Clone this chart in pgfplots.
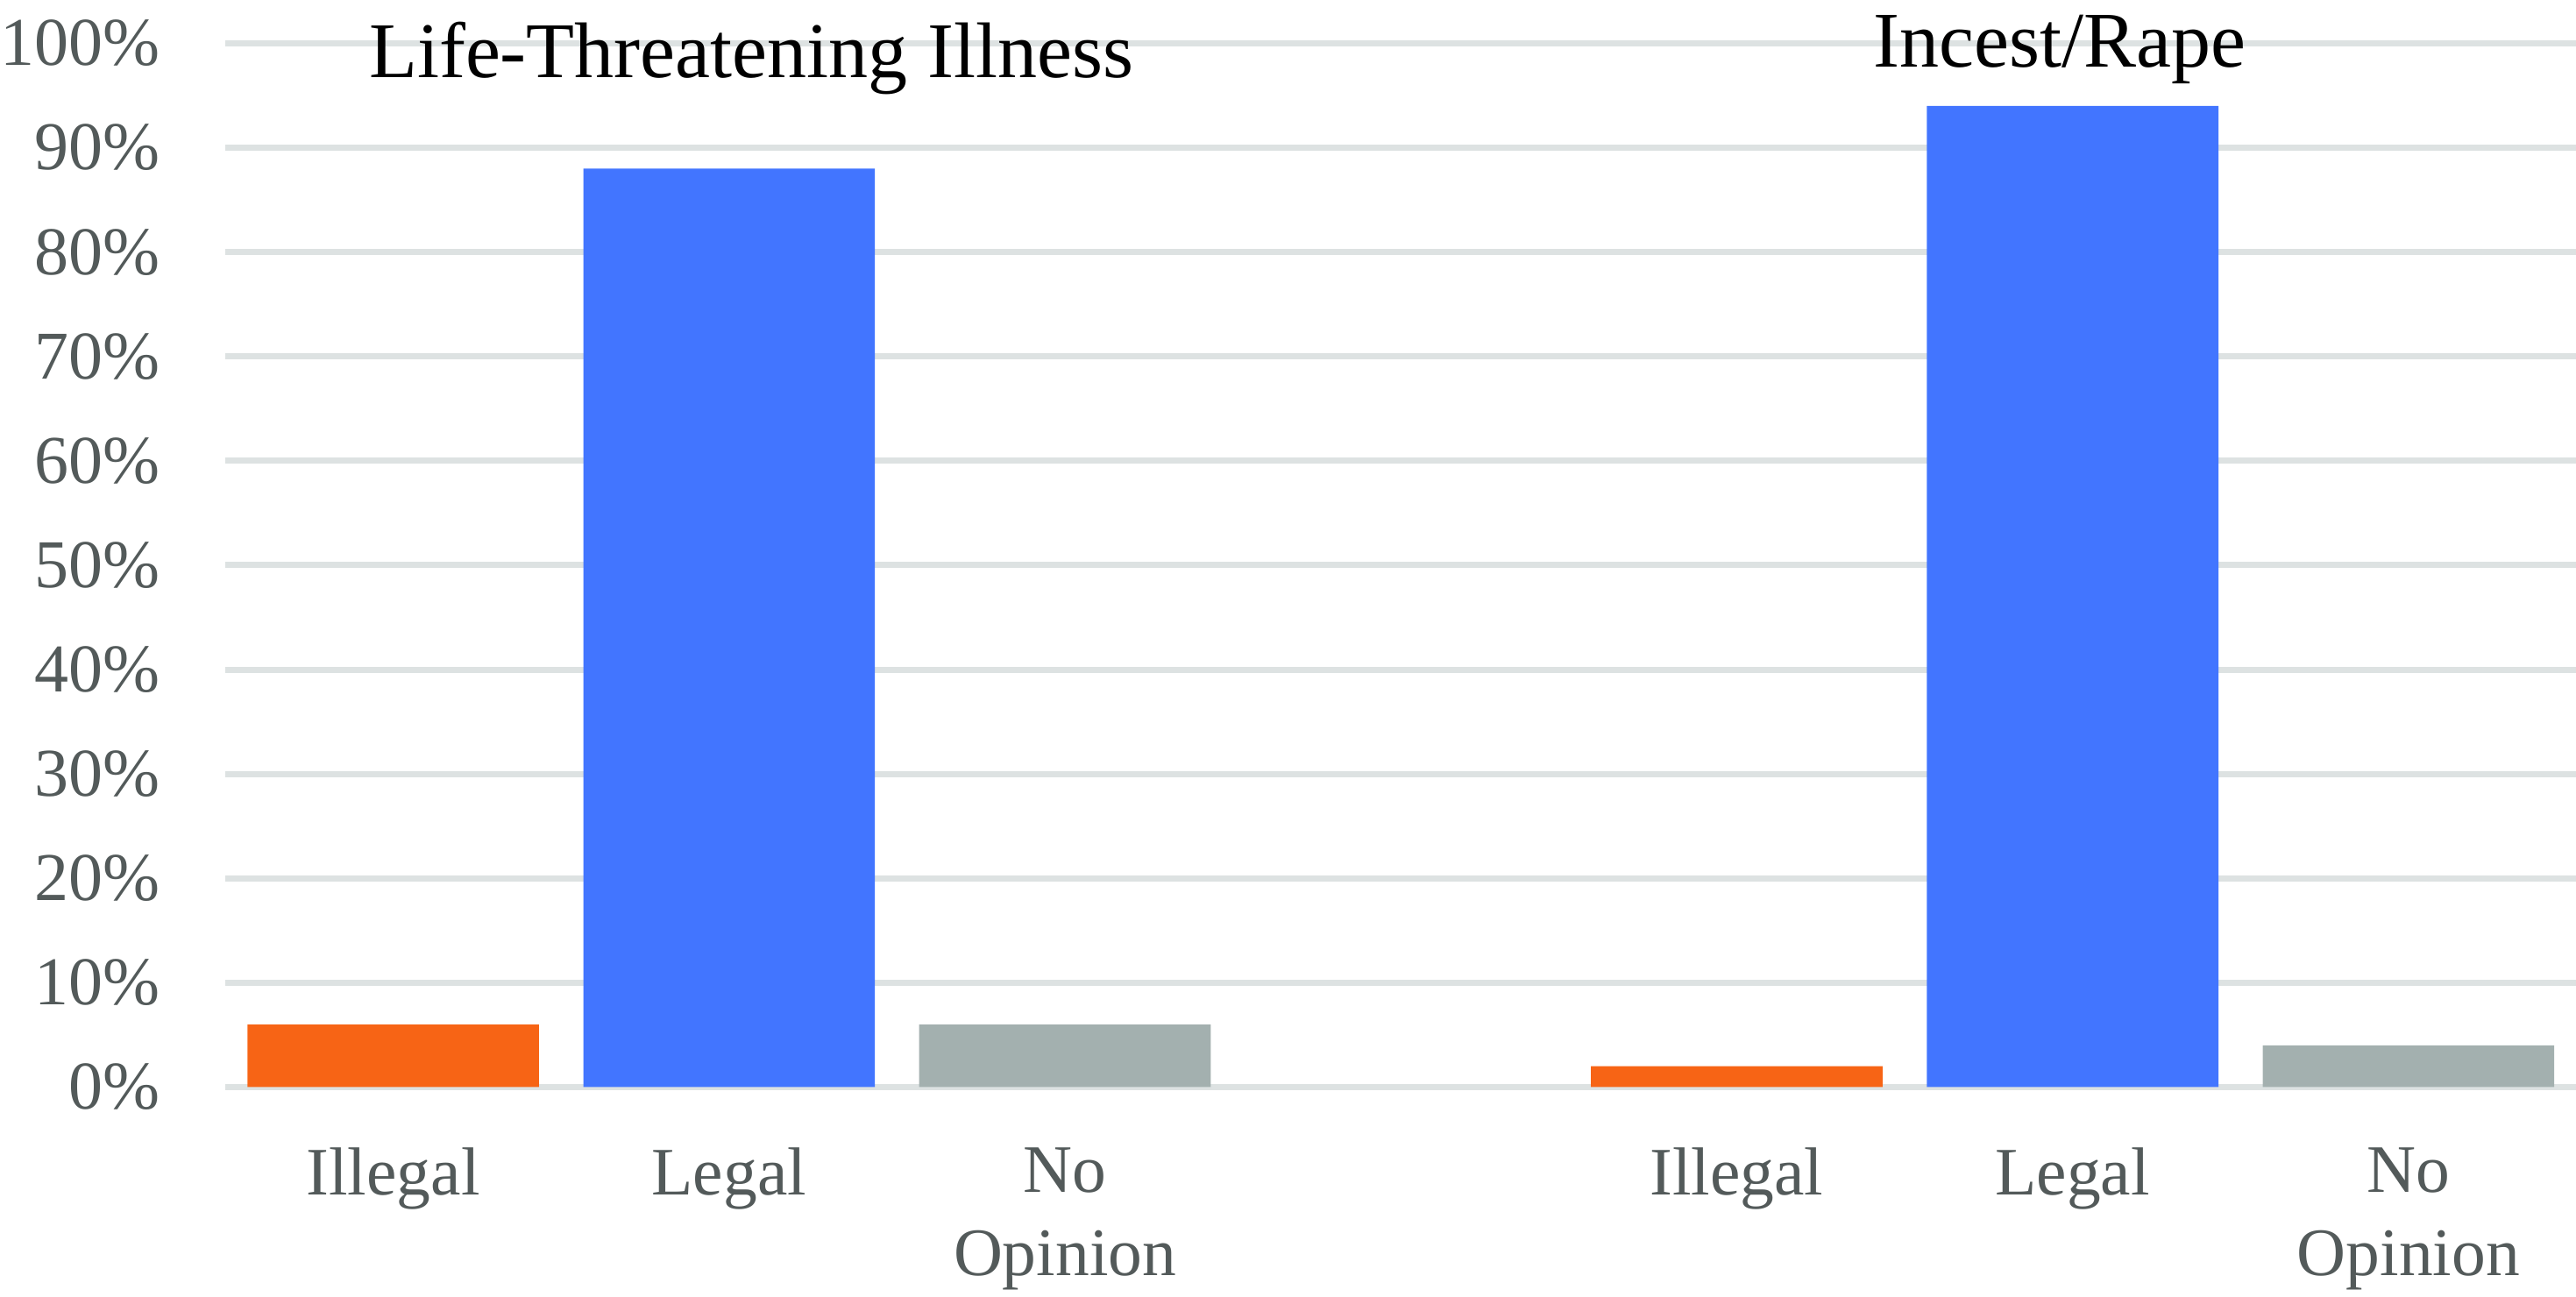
\documentclass[border=0pt]{standalone}
\usepackage{pgfplots}
\pgfplotsset{compat=1.18}
\usepackage{fontspec}
\setmainfont{Liberation Serif}

\definecolor{barorange}{RGB}{247,100,21}
\definecolor{barblue}{RGB}{66,117,255}
\definecolor{bargray}{RGB}{163,176,175}
\definecolor{gridgray}{RGB}{221,226,226}
\definecolor{labelgray}{RGB}{83,90,90}

\begin{document}
\begin{tikzpicture}
\path[use as bounding box] (0,0) rectangle (587.8pt,296pt);
\begin{axis}[
  at={(51.4pt,47.9pt)}, anchor=south west,
  scale only axis,
  width=536.5pt, height=238.2pt,
  xmin=-0.5, xmax=6.5,
  ymin=0, ymax=100,
  clip=false,
  axis line style={draw=none},
  major tick length=0pt,
  ymajorgrids,
  grid style={gridgray, line width=1.4pt},
  ytick={0,10,...,100},
  yticklabels={0\%,10\%,20\%,30\%,40\%,50\%,60\%,70\%,80\%,90\%,100\%},
  yticklabel style={anchor=east, inner sep=0pt, xshift=-14.8pt,
    font=\fontsize{15.6}{18}\selectfont, text=labelgray},
  xtick={0,1,2,4,5,6},
  xticklabels={Illegal,Legal,No\\Opinion,Illegal,Legal,No\\Opinion},
  xticklabel style={anchor=north, inner sep=0pt, yshift=-13.6pt, align=center,
    font=\fontsize{15.5}{19}\selectfont, text=labelgray},
]
% Illegal
\addplot[ybar, bar width=0.868, bar shift=0pt, fill=barorange, draw=none]
  coordinates {(0,6) (4,2)};
% Legal
\addplot[ybar, bar width=0.868, bar shift=0pt, fill=barblue, draw=none]
  coordinates {(1,88) (5,94)};
% No opinion
\addplot[ybar, bar width=0.868, bar shift=0pt, fill=bargray, draw=none]
  coordinates {(2,6) (6,4)};

\node[anchor=base, font=\fontsize{18}{21}\selectfont, text=black]
  at (axis cs:1.066,96.7) {Life-Threatening Illness};
\node[anchor=base, font=\fontsize{18}{21}\selectfont, text=black]
  at (axis cs:4.961,97.7) {Incest/Rape};
\end{axis}
\end{tikzpicture}
\end{document}
